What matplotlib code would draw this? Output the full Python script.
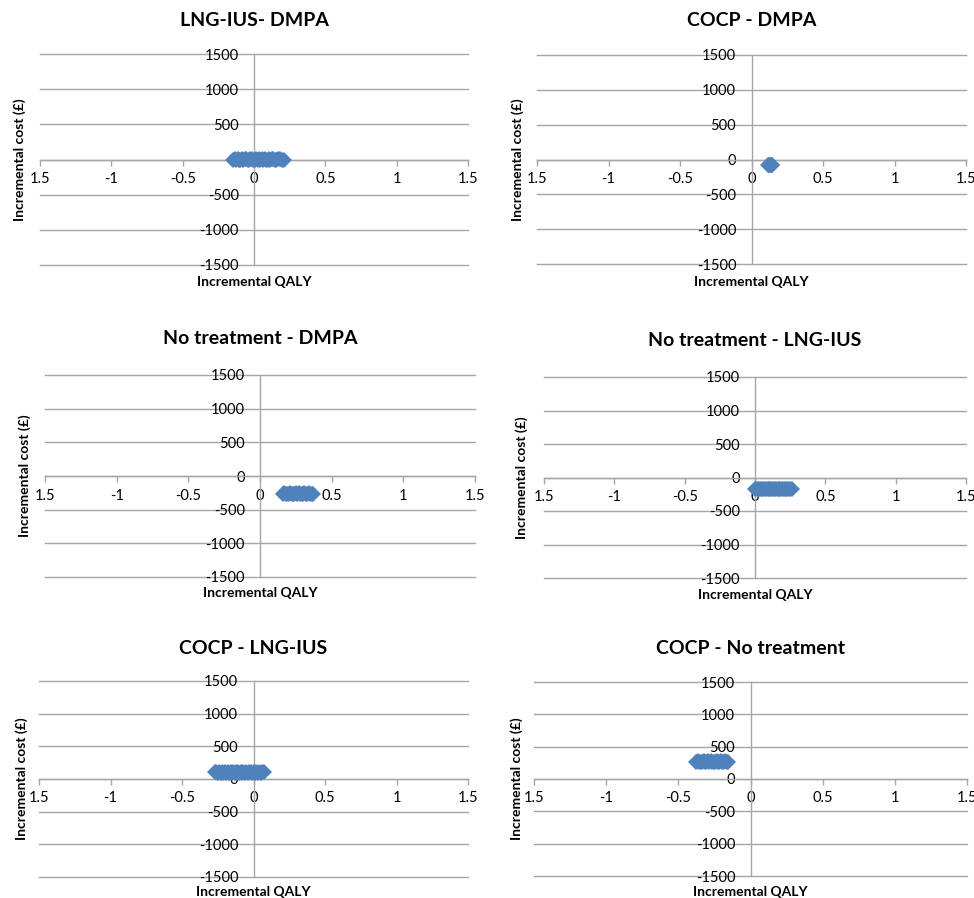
import matplotlib
matplotlib.use('Agg')
import matplotlib.pyplot as plt

plt.rcParams['font.family'] = ['Lato', 'DejaVu Sans']

titles = ['LNG-IUS- DMPA', 'COCP - DMPA', 'No treatment - DMPA',
          'No treatment - LNG-IUS', 'COCP - LNG-IUS', 'COCP - No treatment']

x_ticks = [-1.5, -1, -0.5, 0, 0.5, 1, 1.5]
x_tick_labels = ['1.5', '-1', '-0.5', '0', '0.5', '1', '1.5']
y_ticks = [-1500, -1000, -500, 0, 500, 1000, 1500]
y_tick_labels = ['-1500', '-1000', '-500', '0', '500', '1000', '1500']

# incremental QALY / incremental cost for each comparison
lng_dmpa_qaly = [-0.145, -0.135, -0.125, -0.115, -0.105, -0.095, -0.085, -0.075,
                 -0.065, -0.055, -0.045, -0.035, -0.025, -0.015, -0.005, 0.005,
                 0.015, 0.025, 0.035, 0.045, 0.055, 0.065, 0.075, 0.085, 0.095,
                 0.105, 0.115, 0.125, 0.135, 0.145, 0.155, 0.165, 0.18, 0.195, 0.21]
lng_dmpa_cost = [0, 2, -3, 4, 0, -2, 5, -4, 1, 3, -1, -5, 2, 4, -3, 0, 3, -2, 1,
                 0, 2, -3, 4, 0, -2, 5, -4, 1, 3, -1, -5, 2, 4, -3, 0]

cocp_dmpa_qaly = [0.115, 0.12, 0.125, 0.13, 0.135, 0.14, 0.145]
cocp_dmpa_cost = [-80, -84, -74, -86, -78, -82, -80]

none_dmpa_qaly = [0.16, 0.17, 0.18, 0.19, 0.20, 0.21, 0.22, 0.23, 0.24, 0.25, 0.26,
                  0.27, 0.28, 0.29, 0.30, 0.31, 0.32, 0.33, 0.34, 0.35, 0.36, 0.37]
none_dmpa_cost = [-262, -258, -265, -260, -264, -257, -263, -261, -266, -259, -262,
                  -256, -264, -260, -263, -258, -265, -261, -259, -263, -260, -262]

none_lng_qaly = [0.00, 0.01, 0.02, 0.03, 0.04, 0.05, 0.06, 0.07, 0.08, 0.09, 0.10,
                 0.11, 0.12, 0.13, 0.14, 0.15, 0.16, 0.17, 0.18, 0.19, 0.20, 0.21,
                 0.22, 0.23, 0.24, 0.25, 0.26]
none_lng_cost = [-170, -166, -173, -168, -172, -165, -174, -169, -171, -167, -173,
                 -168, -170, -166, -172, -169, -174, -167, -171, -168, -173, -166,
                 -170, -172, -168, -171, -170]

cocp_lng_qaly = [-0.27, -0.26, -0.25, -0.24, -0.23, -0.22, -0.21, -0.20, -0.19,
                 -0.18, -0.17, -0.16, -0.15, -0.14, -0.13, -0.12, -0.11, -0.10,
                 -0.09, -0.08, -0.07, -0.06, -0.05, -0.04, -0.03, -0.02, -0.01,
                 0.00, 0.01, 0.02, 0.03, 0.04, 0.05, 0.06, 0.07]
cocp_lng_cost = [100, 104, 96, 102, 98, 105, 95, 101, 99, 103, 97, 102, 98, 104,
                 96, 100, 103, 97, 101, 99, 105, 96, 102, 98, 100, 104, 97, 101,
                 99, 103, 96, 102, 98, 101, 100]

cocp_none_qaly = [-0.375, -0.365, -0.355, -0.345, -0.335, -0.325, -0.315, -0.305,
                  -0.295, -0.285, -0.275, -0.265, -0.255, -0.245, -0.235, -0.225,
                  -0.215, -0.205, -0.195, -0.185, -0.175, -0.165, -0.155]
cocp_none_cost = [268, 272, 264, 270, 266, 274, 263, 269, 271, 265, 273, 267, 270,
                  264, 272, 268, 266, 271, 265, 269, 273, 267, 268]

series = [(lng_dmpa_qaly, lng_dmpa_cost), (cocp_dmpa_qaly, cocp_dmpa_cost),
          (none_dmpa_qaly, none_dmpa_cost), (none_lng_qaly, none_lng_cost),
          (cocp_lng_qaly, cocp_lng_cost), (cocp_none_qaly, cocp_none_cost)]

W, H = 974, 898
# plot areas in pixels: x0, x1, y_top, y_bottom, title y, xlabel y, ylabel x
boxes = [(40, 468, 54, 265, 21, 282, 20),
         (537, 966, 55, 264, 21, 282, 518),
         (45, 475, 375, 577, 339, 593, 25),
         (544, 966, 377, 578, 341, 595, 522),
         (39, 468, 681, 877, 648, 892, 22),
         (534, 967, 682, 876, 648, 892, 517)]

grey = '#a6a6a6'
blue = '#4f81bd'

fig = plt.figure(figsize=(W / 100, H / 100), dpi=100)

for (x0, x1, yt, yb, ty, lx, ly), title, (q, c) in zip(boxes, titles, series):
    w, h = x1 - x0, yb - yt
    ax = fig.add_axes([x0 / W, 1 - yb / H, w / W, h / H])
    ax.set_xlim(-1.5, 1.5)
    ax.set_ylim(-1500, 1500)
    for s in ['top', 'right']:
        ax.spines[s].set_visible(False)
    ax.spines['left'].set_position(('data', 0))
    ax.spines['bottom'].set_position(('data', 0))
    for s in ['left', 'bottom']:
        ax.spines[s].set_color(grey)
        ax.spines[s].set_linewidth(1)
    ax.set_xticks(x_ticks, x_tick_labels)
    ax.set_yticks(y_ticks, y_tick_labels)
    ax.tick_params(axis='x', length=4, width=1, color=grey, pad=5, labelsize=10.5)
    ax.tick_params(axis='y', length=0, pad=11, labelsize=10.5)
    ax.yaxis.grid(True, color=grey, lw=1)
    for gl in ax.get_ygridlines():
        gl.set_clip_on(False)
    ax.set_axisbelow(True)
    ax.patch.set_alpha(0)

    ax.plot(q, c, 'D', color=blue, ms=8.5, mew=0, clip_on=False, zorder=3)

    ax.text(0.5, 1 + (yt - ty) / h, title, transform=ax.transAxes,
            ha='center', va='center', fontsize=14, fontweight='bold')
    ax.text(0.5, -(lx - yb) / h, 'Incremental QALY', transform=ax.transAxes,
            ha='center', va='center', fontsize=10, fontweight='bold')
    ax.text(-(x0 - ly) / w, 0.5, 'Incremental cost (£)', transform=ax.transAxes,
            ha='center', va='center', rotation=90, fontsize=10, fontweight='bold')

fig.savefig('out.png', dpi=100)
